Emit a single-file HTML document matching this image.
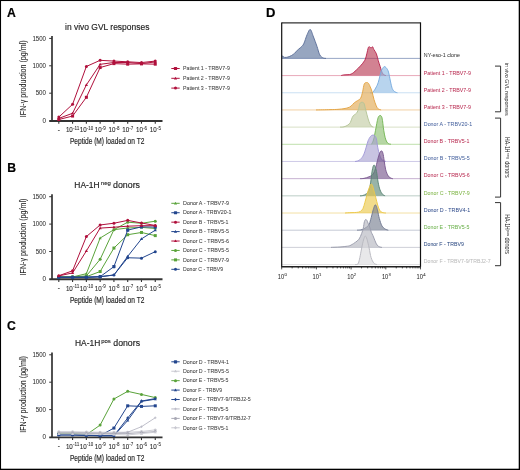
<!DOCTYPE html>
<html><head><meta charset="utf-8"><style>
html,body{margin:0;padding:0;background:#fff;}
svg{display:block;font-family:"Liberation Sans", sans-serif;will-change:transform;}
</style></head><body>
<svg width="520" height="470" viewBox="0 0 520 470">
<rect x="0" y="0" width="520" height="470" fill="#000"/>
<rect x="1.05" y="1.05" width="517.65" height="467.65" fill="#fff"/>
<text x="6.90" y="16.90" font-size="12.2" fill="#000" stroke="#000" stroke-width="0.18" font-weight="bold">A</text>
<text x="7.30" y="171.50" font-size="12.2" fill="#000" stroke="#000" stroke-width="0.18" font-weight="bold">B</text>
<text x="6.90" y="330.20" font-size="12.2" fill="#000" stroke="#000" stroke-width="0.18" font-weight="bold">C</text>
<text x="266.00" y="16.90" font-size="12.2" fill="#000" stroke="#000" stroke-width="0.18" textLength="9.40" lengthAdjust="spacingAndGlyphs" font-weight="bold">D</text>
<text x="65.0" y="30.3" font-size="8.4" fill="#222222" stroke="#222222" stroke-width="0.15" textLength="84.4" lengthAdjust="spacingAndGlyphs">in vivo GVL responses</text>
<text transform="translate(26.00,78.75) rotate(-90)" x="0" y="0" font-size="8.4" fill="#222222" stroke="#222222" stroke-width="0.06" text-anchor="middle" textLength="76.8" lengthAdjust="spacingAndGlyphs">IFN-γ production (pg/ml)</text>
<line x1="52" y1="36.00" x2="52" y2="121.60" stroke="#333333" stroke-width="1.7"/>
<line x1="49.2" y1="121.00" x2="162.5" y2="121.00" stroke="#333333" stroke-width="1.9"/>
<line x1="49.2" y1="93.20" x2="52" y2="93.20" stroke="#333333" stroke-width="1"/>
<line x1="49.2" y1="65.80" x2="52" y2="65.80" stroke="#333333" stroke-width="1"/>
<line x1="49.2" y1="38.40" x2="52" y2="38.40" stroke="#333333" stroke-width="1"/>
<text x="46.00" y="122.85" font-size="6.8" fill="#2a2a2a" stroke="#2a2a2a" stroke-width="0.03" text-anchor="end" textLength="3.50" lengthAdjust="spacingAndGlyphs">0</text>
<text x="46.00" y="95.45" font-size="6.8" fill="#2a2a2a" stroke="#2a2a2a" stroke-width="0.03" text-anchor="end" textLength="10.30" lengthAdjust="spacingAndGlyphs">500</text>
<text x="46.00" y="68.05" font-size="6.8" fill="#2a2a2a" stroke="#2a2a2a" stroke-width="0.03" text-anchor="end" textLength="13.60" lengthAdjust="spacingAndGlyphs">1000</text>
<text x="46.00" y="40.65" font-size="6.8" fill="#2a2a2a" stroke="#2a2a2a" stroke-width="0.03" text-anchor="end" textLength="13.60" lengthAdjust="spacingAndGlyphs">1500</text>
<line x1="58.80" y1="120.60" x2="58.80" y2="123.70" stroke="#333333" stroke-width="1.1"/>
<line x1="72.58" y1="120.60" x2="72.58" y2="123.70" stroke="#333333" stroke-width="1.1"/>
<line x1="86.36" y1="120.60" x2="86.36" y2="123.70" stroke="#333333" stroke-width="1.1"/>
<line x1="100.14" y1="120.60" x2="100.14" y2="123.70" stroke="#333333" stroke-width="1.1"/>
<line x1="113.92" y1="120.60" x2="113.92" y2="123.70" stroke="#333333" stroke-width="1.1"/>
<line x1="127.70" y1="120.60" x2="127.70" y2="123.70" stroke="#333333" stroke-width="1.1"/>
<line x1="141.48" y1="120.60" x2="141.48" y2="123.70" stroke="#333333" stroke-width="1.1"/>
<line x1="155.26" y1="120.60" x2="155.26" y2="123.70" stroke="#333333" stroke-width="1.1"/>
<text x="58.80" y="131.80" font-size="6.4" fill="#222222" stroke="#222222" stroke-width="0.18" text-anchor="middle">-</text>
<text x="65.93" y="132.40" font-size="7.3" fill="#262626" stroke="#262626" stroke-width="0.08" textLength="6.90" lengthAdjust="spacingAndGlyphs">10</text>
<text x="73.03" y="130.00" font-size="4.8" fill="#2a2a2a" stroke="#2a2a2a" stroke-width="0.06" textLength="6.40" lengthAdjust="spacingAndGlyphs">-11</text>
<text x="79.71" y="132.40" font-size="7.3" fill="#262626" stroke="#262626" stroke-width="0.08" textLength="6.90" lengthAdjust="spacingAndGlyphs">10</text>
<text x="86.81" y="130.00" font-size="4.8" fill="#2a2a2a" stroke="#2a2a2a" stroke-width="0.06" textLength="6.40" lengthAdjust="spacingAndGlyphs">-10</text>
<text x="94.69" y="132.40" font-size="7.3" fill="#262626" stroke="#262626" stroke-width="0.08" textLength="6.90" lengthAdjust="spacingAndGlyphs">10</text>
<text x="101.79" y="130.00" font-size="4.8" fill="#2a2a2a" stroke="#2a2a2a" stroke-width="0.06" textLength="4.00" lengthAdjust="spacingAndGlyphs">-9</text>
<text x="108.47" y="132.40" font-size="7.3" fill="#262626" stroke="#262626" stroke-width="0.08" textLength="6.90" lengthAdjust="spacingAndGlyphs">10</text>
<text x="115.57" y="130.00" font-size="4.8" fill="#2a2a2a" stroke="#2a2a2a" stroke-width="0.06" textLength="4.00" lengthAdjust="spacingAndGlyphs">-8</text>
<text x="122.25" y="132.40" font-size="7.3" fill="#262626" stroke="#262626" stroke-width="0.08" textLength="6.90" lengthAdjust="spacingAndGlyphs">10</text>
<text x="129.35" y="130.00" font-size="4.8" fill="#2a2a2a" stroke="#2a2a2a" stroke-width="0.06" textLength="4.00" lengthAdjust="spacingAndGlyphs">-7</text>
<text x="136.03" y="132.40" font-size="7.3" fill="#262626" stroke="#262626" stroke-width="0.08" textLength="6.90" lengthAdjust="spacingAndGlyphs">10</text>
<text x="143.13" y="130.00" font-size="4.8" fill="#2a2a2a" stroke="#2a2a2a" stroke-width="0.06" textLength="4.00" lengthAdjust="spacingAndGlyphs">-6</text>
<text x="149.81" y="132.40" font-size="7.3" fill="#262626" stroke="#262626" stroke-width="0.08" textLength="6.90" lengthAdjust="spacingAndGlyphs">10</text>
<text x="156.91" y="130.00" font-size="4.8" fill="#2a2a2a" stroke="#2a2a2a" stroke-width="0.06" textLength="4.00" lengthAdjust="spacingAndGlyphs">-5</text>
<text x="69.90" y="144.30" font-size="8.4" fill="#222222" stroke="#222222" stroke-width="0.15" textLength="74.50" lengthAdjust="spacingAndGlyphs">Peptide (M) loaded on T2</text>
<path d="M58.80,117.09 L72.58,104.32 L86.36,66.46 L100.14,60.32 L113.92,61.09 L127.70,61.80 L141.48,62.57 L155.26,61.09" fill="none" stroke="#b0103c" stroke-width="1.0" stroke-linejoin="round"/>
<circle cx="58.80" cy="117.09" r="1.5" fill="#b0103c"/>
<circle cx="72.58" cy="104.32" r="1.5" fill="#b0103c"/>
<circle cx="86.36" cy="66.46" r="1.5" fill="#b0103c"/>
<circle cx="100.14" cy="60.32" r="1.5" fill="#b0103c"/>
<circle cx="113.92" cy="61.09" r="1.5" fill="#b0103c"/>
<circle cx="127.70" cy="61.80" r="1.5" fill="#b0103c"/>
<circle cx="141.48" cy="62.57" r="1.5" fill="#b0103c"/>
<circle cx="155.26" cy="61.09" r="1.5" fill="#b0103c"/>
<path d="M58.80,118.41 L72.58,113.26 L86.36,84.93 L100.14,64.32 L113.92,62.51 L127.70,62.51 L141.48,63.61 L155.26,61.96" fill="none" stroke="#b0103c" stroke-width="1.0" stroke-linejoin="round"/>
<path d="M58.80,116.81 L60.40,119.51 L57.20,119.51Z" fill="#b0103c"/>
<path d="M72.58,111.66 L74.18,114.36 L70.98,114.36Z" fill="#b0103c"/>
<path d="M86.36,83.33 L87.96,86.03 L84.76,86.03Z" fill="#b0103c"/>
<path d="M100.14,62.72 L101.74,65.42 L98.54,65.42Z" fill="#b0103c"/>
<path d="M113.92,60.91 L115.52,63.61 L112.32,63.61Z" fill="#b0103c"/>
<path d="M127.70,60.91 L129.30,63.61 L126.10,63.61Z" fill="#b0103c"/>
<path d="M141.48,62.01 L143.08,64.71 L139.88,64.71Z" fill="#b0103c"/>
<path d="M155.26,60.36 L156.86,63.06 L153.66,63.06Z" fill="#b0103c"/>
<path d="M58.80,119.50 L72.58,116.05 L86.36,97.31 L100.14,67.55 L113.92,63.61 L127.70,64.16 L141.48,63.88 L155.26,64.16" fill="none" stroke="#b0103c" stroke-width="1.0" stroke-linejoin="round"/>
<rect x="57.30" y="118.00" width="3.00" height="3.00" fill="#b0103c"/>
<rect x="71.08" y="114.55" width="3.00" height="3.00" fill="#b0103c"/>
<rect x="84.86" y="95.81" width="3.00" height="3.00" fill="#b0103c"/>
<rect x="98.64" y="66.05" width="3.00" height="3.00" fill="#b0103c"/>
<rect x="112.42" y="62.11" width="3.00" height="3.00" fill="#b0103c"/>
<rect x="126.20" y="62.66" width="3.00" height="3.00" fill="#b0103c"/>
<rect x="139.98" y="62.38" width="3.00" height="3.00" fill="#b0103c"/>
<rect x="153.76" y="62.66" width="3.00" height="3.00" fill="#b0103c"/>
<line x1="171.3" y1="68.50" x2="179.7" y2="68.50" stroke="#b0103c" stroke-width="1"/>
<rect x="173.90" y="66.90" width="3.20" height="3.20" rx="0.6" fill="#b0103c"/>
<text x="183.00" y="70.20" font-size="5.9" fill="#3c3c3c" stroke="#3c3c3c" stroke-width="0.05" textLength="46.90" lengthAdjust="spacingAndGlyphs">Patient 1 - TRBV7-9</text>
<line x1="171.3" y1="78.30" x2="179.7" y2="78.30" stroke="#b0103c" stroke-width="1"/>
<path d="M175.50,76.70 L177.10,79.40 L173.90,79.40Z" fill="#b0103c"/>
<text x="183.00" y="80.00" font-size="5.9" fill="#3c3c3c" stroke="#3c3c3c" stroke-width="0.05" textLength="46.90" lengthAdjust="spacingAndGlyphs">Patient 2 - TRBV7-9</text>
<line x1="171.3" y1="88.10" x2="179.7" y2="88.10" stroke="#b0103c" stroke-width="1"/>
<circle cx="175.50" cy="88.10" r="1.5" fill="#b0103c"/>
<text x="183.00" y="89.80" font-size="5.9" fill="#3c3c3c" stroke="#3c3c3c" stroke-width="0.05" textLength="46.90" lengthAdjust="spacingAndGlyphs">Patient 3 - TRBV7-9</text>
<text x="74.3" y="188.20000000000002" font-size="8.4" fill="#222222" stroke="#222222" stroke-width="0.15" textLength="25.3" lengthAdjust="spacingAndGlyphs">HA-1H</text><text x="100.8" y="184.9" font-size="5.2" fill="#222222" stroke="#222222" stroke-width="0.1" textLength="10.0" lengthAdjust="spacingAndGlyphs">neg</text><text x="113.0" y="188.20000000000002" font-size="8.4" fill="#222222" stroke="#222222" stroke-width="0.15" textLength="27.0" lengthAdjust="spacingAndGlyphs">donors</text>
<text transform="translate(26.00,237.05) rotate(-90)" x="0" y="0" font-size="8.4" fill="#222222" stroke="#222222" stroke-width="0.06" text-anchor="middle" textLength="76.8" lengthAdjust="spacingAndGlyphs">IFN-γ production (pg/ml)</text>
<line x1="52" y1="194.30" x2="52" y2="279.90" stroke="#333333" stroke-width="1.7"/>
<line x1="49.2" y1="279.30" x2="162.5" y2="279.30" stroke="#333333" stroke-width="1.9"/>
<line x1="49.2" y1="251.50" x2="52" y2="251.50" stroke="#333333" stroke-width="1"/>
<line x1="49.2" y1="224.10" x2="52" y2="224.10" stroke="#333333" stroke-width="1"/>
<line x1="49.2" y1="196.70" x2="52" y2="196.70" stroke="#333333" stroke-width="1"/>
<text x="46.00" y="281.15" font-size="6.8" fill="#2a2a2a" stroke="#2a2a2a" stroke-width="0.03" text-anchor="end" textLength="3.50" lengthAdjust="spacingAndGlyphs">0</text>
<text x="46.00" y="253.75" font-size="6.8" fill="#2a2a2a" stroke="#2a2a2a" stroke-width="0.03" text-anchor="end" textLength="10.30" lengthAdjust="spacingAndGlyphs">500</text>
<text x="46.00" y="226.35" font-size="6.8" fill="#2a2a2a" stroke="#2a2a2a" stroke-width="0.03" text-anchor="end" textLength="13.60" lengthAdjust="spacingAndGlyphs">1000</text>
<text x="46.00" y="198.95" font-size="6.8" fill="#2a2a2a" stroke="#2a2a2a" stroke-width="0.03" text-anchor="end" textLength="13.60" lengthAdjust="spacingAndGlyphs">1500</text>
<line x1="58.80" y1="278.90" x2="58.80" y2="282.00" stroke="#333333" stroke-width="1.1"/>
<line x1="72.58" y1="278.90" x2="72.58" y2="282.00" stroke="#333333" stroke-width="1.1"/>
<line x1="86.36" y1="278.90" x2="86.36" y2="282.00" stroke="#333333" stroke-width="1.1"/>
<line x1="100.14" y1="278.90" x2="100.14" y2="282.00" stroke="#333333" stroke-width="1.1"/>
<line x1="113.92" y1="278.90" x2="113.92" y2="282.00" stroke="#333333" stroke-width="1.1"/>
<line x1="127.70" y1="278.90" x2="127.70" y2="282.00" stroke="#333333" stroke-width="1.1"/>
<line x1="141.48" y1="278.90" x2="141.48" y2="282.00" stroke="#333333" stroke-width="1.1"/>
<line x1="155.26" y1="278.90" x2="155.26" y2="282.00" stroke="#333333" stroke-width="1.1"/>
<text x="58.80" y="290.10" font-size="6.4" fill="#222222" stroke="#222222" stroke-width="0.18" text-anchor="middle">-</text>
<text x="65.93" y="290.70" font-size="7.3" fill="#262626" stroke="#262626" stroke-width="0.08" textLength="6.90" lengthAdjust="spacingAndGlyphs">10</text>
<text x="73.03" y="288.30" font-size="4.8" fill="#2a2a2a" stroke="#2a2a2a" stroke-width="0.06" textLength="6.40" lengthAdjust="spacingAndGlyphs">-11</text>
<text x="79.71" y="290.70" font-size="7.3" fill="#262626" stroke="#262626" stroke-width="0.08" textLength="6.90" lengthAdjust="spacingAndGlyphs">10</text>
<text x="86.81" y="288.30" font-size="4.8" fill="#2a2a2a" stroke="#2a2a2a" stroke-width="0.06" textLength="6.40" lengthAdjust="spacingAndGlyphs">-10</text>
<text x="94.69" y="290.70" font-size="7.3" fill="#262626" stroke="#262626" stroke-width="0.08" textLength="6.90" lengthAdjust="spacingAndGlyphs">10</text>
<text x="101.79" y="288.30" font-size="4.8" fill="#2a2a2a" stroke="#2a2a2a" stroke-width="0.06" textLength="4.00" lengthAdjust="spacingAndGlyphs">-9</text>
<text x="108.47" y="290.70" font-size="7.3" fill="#262626" stroke="#262626" stroke-width="0.08" textLength="6.90" lengthAdjust="spacingAndGlyphs">10</text>
<text x="115.57" y="288.30" font-size="4.8" fill="#2a2a2a" stroke="#2a2a2a" stroke-width="0.06" textLength="4.00" lengthAdjust="spacingAndGlyphs">-8</text>
<text x="122.25" y="290.70" font-size="7.3" fill="#262626" stroke="#262626" stroke-width="0.08" textLength="6.90" lengthAdjust="spacingAndGlyphs">10</text>
<text x="129.35" y="288.30" font-size="4.8" fill="#2a2a2a" stroke="#2a2a2a" stroke-width="0.06" textLength="4.00" lengthAdjust="spacingAndGlyphs">-7</text>
<text x="136.03" y="290.70" font-size="7.3" fill="#262626" stroke="#262626" stroke-width="0.08" textLength="6.90" lengthAdjust="spacingAndGlyphs">10</text>
<text x="143.13" y="288.30" font-size="4.8" fill="#2a2a2a" stroke="#2a2a2a" stroke-width="0.06" textLength="4.00" lengthAdjust="spacingAndGlyphs">-6</text>
<text x="149.81" y="290.70" font-size="7.3" fill="#262626" stroke="#262626" stroke-width="0.08" textLength="6.90" lengthAdjust="spacingAndGlyphs">10</text>
<text x="156.91" y="288.30" font-size="4.8" fill="#2a2a2a" stroke="#2a2a2a" stroke-width="0.06" textLength="4.00" lengthAdjust="spacingAndGlyphs">-5</text>
<text x="69.90" y="302.60" font-size="8.4" fill="#222222" stroke="#222222" stroke-width="0.15" textLength="74.50" lengthAdjust="spacingAndGlyphs">Peptide (M) loaded on T2</text>
<path d="M58.80,276.98 L72.58,276.98 L86.36,273.69 L100.14,238.07 L113.92,229.69 L127.70,227.99 L141.48,227.39 L155.26,228.48" fill="none" stroke="#5aa33a" stroke-width="1.0" stroke-linejoin="round"/>
<path d="M58.80,275.38 L60.40,278.08 L57.20,278.08Z" fill="#5aa33a"/>
<path d="M72.58,275.38 L74.18,278.08 L70.98,278.08Z" fill="#5aa33a"/>
<path d="M86.36,272.09 L87.96,274.79 L84.76,274.79Z" fill="#5aa33a"/>
<path d="M100.14,236.47 L101.74,239.17 L98.54,239.17Z" fill="#5aa33a"/>
<path d="M113.92,228.09 L115.52,230.79 L112.32,230.79Z" fill="#5aa33a"/>
<path d="M127.70,226.39 L129.30,229.09 L126.10,229.09Z" fill="#5aa33a"/>
<path d="M141.48,225.79 L143.08,228.49 L139.88,228.49Z" fill="#5aa33a"/>
<path d="M155.26,226.88 L156.86,229.58 L153.66,229.58Z" fill="#5aa33a"/>
<path d="M58.80,276.98 L72.58,276.98 L86.36,275.89 L100.14,259.34 L113.92,229.69 L127.70,222.18 L141.48,223.28 L155.26,221.20" fill="none" stroke="#5aa33a" stroke-width="1.0" stroke-linejoin="round"/>
<circle cx="58.80" cy="276.98" r="1.5" fill="#5aa33a"/>
<circle cx="72.58" cy="276.98" r="1.5" fill="#5aa33a"/>
<circle cx="86.36" cy="275.89" r="1.5" fill="#5aa33a"/>
<circle cx="100.14" cy="259.34" r="1.5" fill="#5aa33a"/>
<circle cx="113.92" cy="229.69" r="1.5" fill="#5aa33a"/>
<circle cx="127.70" cy="222.18" r="1.5" fill="#5aa33a"/>
<circle cx="141.48" cy="223.28" r="1.5" fill="#5aa33a"/>
<circle cx="155.26" cy="221.20" r="1.5" fill="#5aa33a"/>
<path d="M58.80,276.98 L72.58,276.98 L86.36,276.71 L100.14,271.50 L113.92,248.05 L127.70,234.73 L141.48,232.48 L155.26,235.61" fill="none" stroke="#5aa33a" stroke-width="1.0" stroke-linejoin="round"/>
<rect x="57.30" y="275.48" width="3.00" height="3.00" fill="#5aa33a"/>
<rect x="71.08" y="275.48" width="3.00" height="3.00" fill="#5aa33a"/>
<rect x="84.86" y="275.21" width="3.00" height="3.00" fill="#5aa33a"/>
<rect x="98.64" y="270.00" width="3.00" height="3.00" fill="#5aa33a"/>
<rect x="112.42" y="246.55" width="3.00" height="3.00" fill="#5aa33a"/>
<rect x="126.20" y="233.23" width="3.00" height="3.00" fill="#5aa33a"/>
<rect x="139.98" y="230.98" width="3.00" height="3.00" fill="#5aa33a"/>
<rect x="153.76" y="234.11" width="3.00" height="3.00" fill="#5aa33a"/>
<path d="M58.80,277.26 L72.58,277.26 L86.36,277.26 L100.14,276.71 L113.92,266.62 L127.70,230.13 L141.48,226.84 L155.26,227.11" fill="none" stroke="#23468e" stroke-width="1.0" stroke-linejoin="round"/>
<rect x="57.20" y="275.66" width="3.20" height="3.20" rx="0.6" fill="#23468e"/>
<rect x="70.98" y="275.66" width="3.20" height="3.20" rx="0.6" fill="#23468e"/>
<rect x="84.76" y="275.66" width="3.20" height="3.20" rx="0.6" fill="#23468e"/>
<rect x="98.54" y="275.11" width="3.20" height="3.20" rx="0.6" fill="#23468e"/>
<rect x="112.32" y="265.02" width="3.20" height="3.20" rx="0.6" fill="#23468e"/>
<rect x="126.10" y="228.53" width="3.20" height="3.20" rx="0.6" fill="#23468e"/>
<rect x="139.88" y="225.24" width="3.20" height="3.20" rx="0.6" fill="#23468e"/>
<rect x="153.66" y="225.51" width="3.20" height="3.20" rx="0.6" fill="#23468e"/>
<path d="M58.80,277.26 L72.58,277.26 L86.36,277.26 L100.14,276.71 L113.92,275.01 L127.70,256.38 L141.48,238.90 L155.26,230.18" fill="none" stroke="#23468e" stroke-width="1.0" stroke-linejoin="round"/>
<path d="M58.80,275.66 L60.40,278.36 L57.20,278.36Z" fill="#23468e"/>
<path d="M72.58,275.66 L74.18,278.36 L70.98,278.36Z" fill="#23468e"/>
<path d="M86.36,275.66 L87.96,278.36 L84.76,278.36Z" fill="#23468e"/>
<path d="M100.14,275.11 L101.74,277.81 L98.54,277.81Z" fill="#23468e"/>
<path d="M113.92,273.41 L115.52,276.11 L112.32,276.11Z" fill="#23468e"/>
<path d="M127.70,254.78 L129.30,257.48 L126.10,257.48Z" fill="#23468e"/>
<path d="M141.48,237.30 L143.08,240.00 L139.88,240.00Z" fill="#23468e"/>
<path d="M155.26,228.58 L156.86,231.28 L153.66,231.28Z" fill="#23468e"/>
<path d="M58.80,277.26 L72.58,277.26 L86.36,277.26 L100.14,276.71 L113.92,275.01 L127.70,257.75 L141.48,258.13 L155.26,251.66" fill="none" stroke="#23468e" stroke-width="1.0" stroke-linejoin="round"/>
<circle cx="58.80" cy="277.26" r="1.5" fill="#23468e"/>
<circle cx="72.58" cy="277.26" r="1.5" fill="#23468e"/>
<circle cx="86.36" cy="277.26" r="1.5" fill="#23468e"/>
<circle cx="100.14" cy="276.71" r="1.5" fill="#23468e"/>
<circle cx="113.92" cy="275.01" r="1.5" fill="#23468e"/>
<circle cx="127.70" cy="257.75" r="1.5" fill="#23468e"/>
<circle cx="141.48" cy="258.13" r="1.5" fill="#23468e"/>
<circle cx="155.26" cy="251.66" r="1.5" fill="#23468e"/>
<path d="M58.80,275.89 L72.58,272.93 L86.36,250.95 L100.14,228.10 L113.92,227.22 L127.70,226.18 L141.48,225.69 L155.26,225.69" fill="none" stroke="#b0103c" stroke-width="1.0" stroke-linejoin="round"/>
<path d="M58.80,274.29 L60.40,276.99 L57.20,276.99Z" fill="#b0103c"/>
<path d="M72.58,271.33 L74.18,274.03 L70.98,274.03Z" fill="#b0103c"/>
<path d="M86.36,249.35 L87.96,252.05 L84.76,252.05Z" fill="#b0103c"/>
<path d="M100.14,226.50 L101.74,229.20 L98.54,229.20Z" fill="#b0103c"/>
<path d="M113.92,225.62 L115.52,228.32 L112.32,228.32Z" fill="#b0103c"/>
<path d="M127.70,224.58 L129.30,227.28 L126.10,227.28Z" fill="#b0103c"/>
<path d="M141.48,224.09 L143.08,226.79 L139.88,226.79Z" fill="#b0103c"/>
<path d="M155.26,224.09 L156.86,226.79 L153.66,226.79Z" fill="#b0103c"/>
<path d="M58.80,275.72 L72.58,270.79 L86.36,236.59 L100.14,224.98 L113.92,223.22 L127.70,220.37 L141.48,223.00 L155.26,225.47" fill="none" stroke="#b0103c" stroke-width="1.0" stroke-linejoin="round"/>
<circle cx="58.80" cy="275.72" r="1.5" fill="#b0103c"/>
<circle cx="72.58" cy="270.79" r="1.5" fill="#b0103c"/>
<circle cx="86.36" cy="236.59" r="1.5" fill="#b0103c"/>
<circle cx="100.14" cy="224.98" r="1.5" fill="#b0103c"/>
<circle cx="113.92" cy="223.22" r="1.5" fill="#b0103c"/>
<circle cx="127.70" cy="220.37" r="1.5" fill="#b0103c"/>
<circle cx="141.48" cy="223.00" r="1.5" fill="#b0103c"/>
<circle cx="155.26" cy="225.47" r="1.5" fill="#b0103c"/>
<line x1="171.3" y1="203.30" x2="179.7" y2="203.30" stroke="#5aa33a" stroke-width="1"/>
<path d="M175.50,201.70 L177.10,204.40 L173.90,204.40Z" fill="#5aa33a"/>
<text x="183.00" y="205.00" font-size="5.9" fill="#3c3c3c" stroke="#3c3c3c" stroke-width="0.05" textLength="46.00" lengthAdjust="spacingAndGlyphs">Donor A - TRBV7-9</text>
<line x1="171.3" y1="212.73" x2="179.7" y2="212.73" stroke="#23468e" stroke-width="1"/>
<rect x="173.90" y="211.13" width="3.20" height="3.20" rx="0.6" fill="#23468e"/>
<text x="183.00" y="214.43" font-size="5.9" fill="#3c3c3c" stroke="#3c3c3c" stroke-width="0.05" textLength="48.40" lengthAdjust="spacingAndGlyphs">Donor A - TRBV20-1</text>
<line x1="171.3" y1="222.16" x2="179.7" y2="222.16" stroke="#b0103c" stroke-width="1"/>
<circle cx="175.50" cy="222.16" r="1.5" fill="#b0103c"/>
<text x="183.00" y="223.86" font-size="5.9" fill="#3c3c3c" stroke="#3c3c3c" stroke-width="0.05" textLength="45.50" lengthAdjust="spacingAndGlyphs">Donor B - TRBV5-1</text>
<line x1="171.3" y1="231.59" x2="179.7" y2="231.59" stroke="#23468e" stroke-width="1"/>
<path d="M175.50,229.99 L177.10,232.69 L173.90,232.69Z" fill="#23468e"/>
<text x="183.00" y="233.29" font-size="5.9" fill="#3c3c3c" stroke="#3c3c3c" stroke-width="0.05" textLength="46.00" lengthAdjust="spacingAndGlyphs">Donor B - TRBV5-5</text>
<line x1="171.3" y1="241.02" x2="179.7" y2="241.02" stroke="#b0103c" stroke-width="1"/>
<path d="M175.50,239.42 L177.10,242.12 L173.90,242.12Z" fill="#b0103c"/>
<text x="183.00" y="242.72" font-size="5.9" fill="#3c3c3c" stroke="#3c3c3c" stroke-width="0.05" textLength="46.00" lengthAdjust="spacingAndGlyphs">Donor C - TRBV5-6</text>
<line x1="171.3" y1="250.45" x2="179.7" y2="250.45" stroke="#5aa33a" stroke-width="1"/>
<circle cx="175.50" cy="250.45" r="1.5" fill="#5aa33a"/>
<text x="183.00" y="252.15" font-size="5.9" fill="#3c3c3c" stroke="#3c3c3c" stroke-width="0.05" textLength="46.00" lengthAdjust="spacingAndGlyphs">Donor C - TRBV5-5</text>
<line x1="171.3" y1="259.88" x2="179.7" y2="259.88" stroke="#5aa33a" stroke-width="1"/>
<rect x="174.00" y="258.38" width="3.00" height="3.00" fill="#5aa33a"/>
<text x="183.00" y="261.58" font-size="5.9" fill="#3c3c3c" stroke="#3c3c3c" stroke-width="0.05" textLength="46.00" lengthAdjust="spacingAndGlyphs">Donor C - TRBV7-9</text>
<line x1="171.3" y1="269.31" x2="179.7" y2="269.31" stroke="#23468e" stroke-width="1"/>
<circle cx="175.50" cy="269.31" r="1.5" fill="#23468e"/>
<text x="183.00" y="271.01" font-size="5.9" fill="#3c3c3c" stroke="#3c3c3c" stroke-width="0.05" textLength="40.00" lengthAdjust="spacingAndGlyphs">Donor C - TRBV9</text>
<text x="75.0" y="346.29999999999995" font-size="8.4" fill="#222222" stroke="#222222" stroke-width="0.15" textLength="25.3" lengthAdjust="spacingAndGlyphs">HA-1H</text><text x="101.2" y="342.99999999999994" font-size="5.2" fill="#222222" stroke="#222222" stroke-width="0.1" textLength="9.6" lengthAdjust="spacingAndGlyphs">pos</text><text x="113.3" y="346.29999999999995" font-size="8.4" fill="#222222" stroke="#222222" stroke-width="0.15" textLength="26.7" lengthAdjust="spacingAndGlyphs">donors</text>
<text transform="translate(26.00,394.45) rotate(-90)" x="0" y="0" font-size="8.4" fill="#222222" stroke="#222222" stroke-width="0.06" text-anchor="middle" textLength="76.8" lengthAdjust="spacingAndGlyphs">IFN-γ production (pg/ml)</text>
<line x1="52" y1="352.40" x2="52" y2="438.00" stroke="#333333" stroke-width="1.7"/>
<line x1="49.2" y1="437.40" x2="162.5" y2="437.40" stroke="#333333" stroke-width="1.9"/>
<line x1="49.2" y1="409.60" x2="52" y2="409.60" stroke="#333333" stroke-width="1"/>
<line x1="49.2" y1="382.20" x2="52" y2="382.20" stroke="#333333" stroke-width="1"/>
<line x1="49.2" y1="354.80" x2="52" y2="354.80" stroke="#333333" stroke-width="1"/>
<text x="46.00" y="439.25" font-size="6.8" fill="#2a2a2a" stroke="#2a2a2a" stroke-width="0.03" text-anchor="end" textLength="3.50" lengthAdjust="spacingAndGlyphs">0</text>
<text x="46.00" y="411.85" font-size="6.8" fill="#2a2a2a" stroke="#2a2a2a" stroke-width="0.03" text-anchor="end" textLength="10.30" lengthAdjust="spacingAndGlyphs">500</text>
<text x="46.00" y="384.45" font-size="6.8" fill="#2a2a2a" stroke="#2a2a2a" stroke-width="0.03" text-anchor="end" textLength="13.60" lengthAdjust="spacingAndGlyphs">1000</text>
<text x="46.00" y="357.05" font-size="6.8" fill="#2a2a2a" stroke="#2a2a2a" stroke-width="0.03" text-anchor="end" textLength="13.60" lengthAdjust="spacingAndGlyphs">1500</text>
<line x1="58.80" y1="437.00" x2="58.80" y2="440.10" stroke="#333333" stroke-width="1.1"/>
<line x1="72.58" y1="437.00" x2="72.58" y2="440.10" stroke="#333333" stroke-width="1.1"/>
<line x1="86.36" y1="437.00" x2="86.36" y2="440.10" stroke="#333333" stroke-width="1.1"/>
<line x1="100.14" y1="437.00" x2="100.14" y2="440.10" stroke="#333333" stroke-width="1.1"/>
<line x1="113.92" y1="437.00" x2="113.92" y2="440.10" stroke="#333333" stroke-width="1.1"/>
<line x1="127.70" y1="437.00" x2="127.70" y2="440.10" stroke="#333333" stroke-width="1.1"/>
<line x1="141.48" y1="437.00" x2="141.48" y2="440.10" stroke="#333333" stroke-width="1.1"/>
<line x1="155.26" y1="437.00" x2="155.26" y2="440.10" stroke="#333333" stroke-width="1.1"/>
<text x="58.80" y="448.20" font-size="6.4" fill="#222222" stroke="#222222" stroke-width="0.18" text-anchor="middle">-</text>
<text x="65.93" y="448.80" font-size="7.3" fill="#262626" stroke="#262626" stroke-width="0.08" textLength="6.90" lengthAdjust="spacingAndGlyphs">10</text>
<text x="73.03" y="446.40" font-size="4.8" fill="#2a2a2a" stroke="#2a2a2a" stroke-width="0.06" textLength="6.40" lengthAdjust="spacingAndGlyphs">-11</text>
<text x="79.71" y="448.80" font-size="7.3" fill="#262626" stroke="#262626" stroke-width="0.08" textLength="6.90" lengthAdjust="spacingAndGlyphs">10</text>
<text x="86.81" y="446.40" font-size="4.8" fill="#2a2a2a" stroke="#2a2a2a" stroke-width="0.06" textLength="6.40" lengthAdjust="spacingAndGlyphs">-10</text>
<text x="94.69" y="448.80" font-size="7.3" fill="#262626" stroke="#262626" stroke-width="0.08" textLength="6.90" lengthAdjust="spacingAndGlyphs">10</text>
<text x="101.79" y="446.40" font-size="4.8" fill="#2a2a2a" stroke="#2a2a2a" stroke-width="0.06" textLength="4.00" lengthAdjust="spacingAndGlyphs">-9</text>
<text x="108.47" y="448.80" font-size="7.3" fill="#262626" stroke="#262626" stroke-width="0.08" textLength="6.90" lengthAdjust="spacingAndGlyphs">10</text>
<text x="115.57" y="446.40" font-size="4.8" fill="#2a2a2a" stroke="#2a2a2a" stroke-width="0.06" textLength="4.00" lengthAdjust="spacingAndGlyphs">-8</text>
<text x="122.25" y="448.80" font-size="7.3" fill="#262626" stroke="#262626" stroke-width="0.08" textLength="6.90" lengthAdjust="spacingAndGlyphs">10</text>
<text x="129.35" y="446.40" font-size="4.8" fill="#2a2a2a" stroke="#2a2a2a" stroke-width="0.06" textLength="4.00" lengthAdjust="spacingAndGlyphs">-7</text>
<text x="136.03" y="448.80" font-size="7.3" fill="#262626" stroke="#262626" stroke-width="0.08" textLength="6.90" lengthAdjust="spacingAndGlyphs">10</text>
<text x="143.13" y="446.40" font-size="4.8" fill="#2a2a2a" stroke="#2a2a2a" stroke-width="0.06" textLength="4.00" lengthAdjust="spacingAndGlyphs">-6</text>
<text x="149.81" y="448.80" font-size="7.3" fill="#262626" stroke="#262626" stroke-width="0.08" textLength="6.90" lengthAdjust="spacingAndGlyphs">10</text>
<text x="156.91" y="446.40" font-size="4.8" fill="#2a2a2a" stroke="#2a2a2a" stroke-width="0.06" textLength="4.00" lengthAdjust="spacingAndGlyphs">-5</text>
<text x="69.90" y="460.70" font-size="8.4" fill="#222222" stroke="#222222" stroke-width="0.15" textLength="74.50" lengthAdjust="spacingAndGlyphs">Peptide (M) loaded on T2</text>
<path d="M58.80,433.33 L72.58,433.33 L86.36,434.70 L100.14,425.11 L113.92,398.97 L127.70,391.35 L141.48,394.42 L155.26,397.60" fill="none" stroke="#5aa33a" stroke-width="1.0" stroke-linejoin="round"/>
<circle cx="58.80" cy="433.33" r="1.5" fill="#5aa33a"/>
<circle cx="72.58" cy="433.33" r="1.5" fill="#5aa33a"/>
<circle cx="86.36" cy="434.70" r="1.5" fill="#5aa33a"/>
<circle cx="100.14" cy="425.11" r="1.5" fill="#5aa33a"/>
<circle cx="113.92" cy="398.97" r="1.5" fill="#5aa33a"/>
<circle cx="127.70" cy="391.35" r="1.5" fill="#5aa33a"/>
<circle cx="141.48" cy="394.42" r="1.5" fill="#5aa33a"/>
<circle cx="155.26" cy="397.60" r="1.5" fill="#5aa33a"/>
<path d="M58.80,434.53 L72.58,434.53 L86.36,435.08 L100.14,435.63 L113.92,428.07 L127.70,405.82 L141.48,406.42 L155.26,405.82" fill="none" stroke="#23468e" stroke-width="1.0" stroke-linejoin="round"/>
<rect x="57.30" y="433.03" width="3.00" height="3.00" fill="#23468e"/>
<rect x="71.08" y="433.03" width="3.00" height="3.00" fill="#23468e"/>
<rect x="84.86" y="433.58" width="3.00" height="3.00" fill="#23468e"/>
<rect x="98.64" y="434.13" width="3.00" height="3.00" fill="#23468e"/>
<rect x="112.42" y="426.57" width="3.00" height="3.00" fill="#23468e"/>
<rect x="126.20" y="404.32" width="3.00" height="3.00" fill="#23468e"/>
<rect x="139.98" y="404.92" width="3.00" height="3.00" fill="#23468e"/>
<rect x="153.76" y="404.32" width="3.00" height="3.00" fill="#23468e"/>
<path d="M58.80,434.81 L72.58,434.81 L86.36,435.36 L100.14,435.63 L113.92,435.63 L127.70,418.04 L141.48,401.05 L155.26,398.59" fill="none" stroke="#23468e" stroke-width="1.0" stroke-linejoin="round"/>
<path d="M58.80,433.11 L60.30,434.81 L58.80,436.51 L57.30,434.81Z" fill="#23468e"/>
<path d="M72.58,433.11 L74.08,434.81 L72.58,436.51 L71.08,434.81Z" fill="#23468e"/>
<path d="M86.36,433.66 L87.86,435.36 L86.36,437.06 L84.86,435.36Z" fill="#23468e"/>
<path d="M100.14,433.93 L101.64,435.63 L100.14,437.33 L98.64,435.63Z" fill="#23468e"/>
<path d="M113.92,433.93 L115.42,435.63 L113.92,437.33 L112.42,435.63Z" fill="#23468e"/>
<path d="M127.70,416.34 L129.20,418.04 L127.70,419.74 L126.20,418.04Z" fill="#23468e"/>
<path d="M141.48,399.35 L142.98,401.05 L141.48,402.75 L139.98,401.05Z" fill="#23468e"/>
<path d="M155.26,396.89 L156.76,398.59 L155.26,400.29 L153.76,398.59Z" fill="#23468e"/>
<path d="M58.80,435.08 L72.58,435.08 L86.36,435.47 L100.14,435.79 L113.92,435.79 L127.70,420.51 L141.48,401.38 L155.26,399.19" fill="none" stroke="#23468e" stroke-width="1.0" stroke-linejoin="round"/>
<path d="M58.80,433.48 L60.40,436.18 L57.20,436.18Z" fill="#23468e"/>
<path d="M72.58,433.48 L74.18,436.18 L70.98,436.18Z" fill="#23468e"/>
<path d="M86.36,433.87 L87.96,436.57 L84.76,436.57Z" fill="#23468e"/>
<path d="M100.14,434.19 L101.74,436.89 L98.54,436.89Z" fill="#23468e"/>
<path d="M113.92,434.19 L115.52,436.89 L112.32,436.89Z" fill="#23468e"/>
<path d="M127.70,418.91 L129.30,421.61 L126.10,421.61Z" fill="#23468e"/>
<path d="M141.48,399.78 L143.08,402.48 L139.88,402.48Z" fill="#23468e"/>
<path d="M155.26,397.59 L156.86,400.29 L153.66,400.29Z" fill="#23468e"/>
<path d="M58.80,431.79 L72.58,431.79 L86.36,432.07 L100.14,432.23 L113.92,432.23 L127.70,432.23 L141.48,431.52 L155.26,429.88" fill="none" stroke="#c8c8d0" stroke-width="0.9" stroke-linejoin="round"/>
<circle cx="58.80" cy="431.79" r="1.5" fill="#c8c8d0"/>
<circle cx="72.58" cy="431.79" r="1.5" fill="#c8c8d0"/>
<circle cx="86.36" cy="432.07" r="1.5" fill="#c8c8d0"/>
<circle cx="100.14" cy="432.23" r="1.5" fill="#c8c8d0"/>
<circle cx="113.92" cy="432.23" r="1.5" fill="#c8c8d0"/>
<circle cx="127.70" cy="432.23" r="1.5" fill="#c8c8d0"/>
<circle cx="141.48" cy="431.52" r="1.5" fill="#c8c8d0"/>
<circle cx="155.26" cy="429.88" r="1.5" fill="#c8c8d0"/>
<path d="M58.80,432.34 L72.58,432.34 L86.36,432.62 L100.14,432.89 L113.92,433.16 L127.70,432.23 L141.48,426.70 L155.26,417.77" fill="none" stroke="#b8b8c4" stroke-width="0.9" stroke-linejoin="round"/>
<path d="M57.50,432.34 H60.10 M58.80,431.04 V433.64" stroke="#b8b8c4" stroke-width="0.7"/>
<path d="M71.28,432.34 H73.88 M72.58,431.04 V433.64" stroke="#b8b8c4" stroke-width="0.7"/>
<path d="M85.06,432.62 H87.66 M86.36,431.32 V433.92" stroke="#b8b8c4" stroke-width="0.7"/>
<path d="M98.84,432.89 H101.44 M100.14,431.59 V434.19" stroke="#b8b8c4" stroke-width="0.7"/>
<path d="M112.62,433.16 H115.22 M113.92,431.86 V434.46" stroke="#b8b8c4" stroke-width="0.7"/>
<path d="M126.40,432.23 H129.00 M127.70,430.93 V433.53" stroke="#b8b8c4" stroke-width="0.7"/>
<path d="M140.18,426.70 H142.78 M141.48,425.40 V428.00" stroke="#b8b8c4" stroke-width="0.7"/>
<path d="M153.96,417.77 H156.56 M155.26,416.47 V419.07" stroke="#b8b8c4" stroke-width="0.7"/>
<path d="M58.80,433.16 L72.58,433.16 L86.36,433.44 L100.14,433.60 L113.92,433.60 L127.70,433.60 L141.48,432.62 L155.26,431.52" fill="none" stroke="#a8a8b4" stroke-width="0.9" stroke-linejoin="round"/>
<path d="M58.80,431.46 L60.30,433.16 L58.80,434.86 L57.30,433.16Z" fill="#a8a8b4"/>
<path d="M72.58,431.46 L74.08,433.16 L72.58,434.86 L71.08,433.16Z" fill="#a8a8b4"/>
<path d="M86.36,431.74 L87.86,433.44 L86.36,435.14 L84.86,433.44Z" fill="#a8a8b4"/>
<path d="M100.14,431.90 L101.64,433.60 L100.14,435.30 L98.64,433.60Z" fill="#a8a8b4"/>
<path d="M113.92,431.90 L115.42,433.60 L113.92,435.30 L112.42,433.60Z" fill="#a8a8b4"/>
<path d="M127.70,431.90 L129.20,433.60 L127.70,435.30 L126.20,433.60Z" fill="#a8a8b4"/>
<path d="M141.48,430.92 L142.98,432.62 L141.48,434.32 L139.98,432.62Z" fill="#a8a8b4"/>
<path d="M155.26,429.82 L156.76,431.52 L155.26,433.22 L153.76,431.52Z" fill="#a8a8b4"/>
<path d="M58.80,433.99 L72.58,433.99 L86.36,434.26 L100.14,434.26 L113.92,434.53 L127.70,434.92 L141.48,433.60 L155.26,432.23" fill="none" stroke="#c8c8d0" stroke-width="0.9" stroke-linejoin="round"/>
<path d="M58.80,432.39 L60.40,435.09 L57.20,435.09Z" fill="#c8c8d0"/>
<path d="M72.58,432.39 L74.18,435.09 L70.98,435.09Z" fill="#c8c8d0"/>
<path d="M86.36,432.66 L87.96,435.36 L84.76,435.36Z" fill="#c8c8d0"/>
<path d="M100.14,432.66 L101.74,435.36 L98.54,435.36Z" fill="#c8c8d0"/>
<path d="M113.92,432.93 L115.52,435.63 L112.32,435.63Z" fill="#c8c8d0"/>
<path d="M127.70,433.32 L129.30,436.02 L126.10,436.02Z" fill="#c8c8d0"/>
<path d="M141.48,432.00 L143.08,434.70 L139.88,434.70Z" fill="#c8c8d0"/>
<path d="M155.26,430.63 L156.86,433.33 L153.66,433.33Z" fill="#c8c8d0"/>
<line x1="171.3" y1="361.80" x2="179.7" y2="361.80" stroke="#23468e" stroke-width="1"/>
<rect x="173.90" y="360.20" width="3.20" height="3.20" rx="0.6" fill="#23468e"/>
<text x="183.00" y="363.50" font-size="5.9" fill="#3c3c3c" stroke="#3c3c3c" stroke-width="0.05" textLength="46.00" lengthAdjust="spacingAndGlyphs">Donor D - TRBV4-1</text>
<line x1="171.3" y1="371.23" x2="179.7" y2="371.23" stroke="#c8c8d0" stroke-width="1"/>
<path d="M175.50,369.63 L177.10,372.33 L173.90,372.33Z" fill="#c8c8d0"/>
<text x="183.00" y="372.93" font-size="5.9" fill="#3c3c3c" stroke="#3c3c3c" stroke-width="0.05" textLength="46.00" lengthAdjust="spacingAndGlyphs">Donor D - TRBV5-5</text>
<line x1="171.3" y1="380.66" x2="179.7" y2="380.66" stroke="#5aa33a" stroke-width="1"/>
<circle cx="175.50" cy="380.66" r="1.5" fill="#5aa33a"/>
<text x="183.00" y="382.36" font-size="5.9" fill="#3c3c3c" stroke="#3c3c3c" stroke-width="0.05" textLength="45.50" lengthAdjust="spacingAndGlyphs">Donor E - TRBV5-5</text>
<line x1="171.3" y1="390.09" x2="179.7" y2="390.09" stroke="#23468e" stroke-width="1"/>
<path d="M175.50,388.49 L177.10,391.19 L173.90,391.19Z" fill="#23468e"/>
<text x="183.00" y="391.79" font-size="5.9" fill="#3c3c3c" stroke="#3c3c3c" stroke-width="0.05" textLength="39.00" lengthAdjust="spacingAndGlyphs">Donor F - TRBV9</text>
<line x1="171.3" y1="399.52" x2="179.7" y2="399.52" stroke="#23468e" stroke-width="1"/>
<path d="M175.50,397.82 L177.00,399.52 L175.50,401.22 L174.00,399.52Z" fill="#23468e"/>
<text x="183.00" y="401.22" font-size="5.9" fill="#3c3c3c" stroke="#3c3c3c" stroke-width="0.05" textLength="67.80" lengthAdjust="spacingAndGlyphs">Donor F - TRBV7-9/TRBJ2-5</text>
<line x1="171.3" y1="408.95" x2="179.7" y2="408.95" stroke="#b8b8c4" stroke-width="1"/>
<path d="M174.20,408.95 H176.80 M175.50,407.65 V410.25" stroke="#b8b8c4" stroke-width="0.7"/>
<text x="183.00" y="410.65" font-size="5.9" fill="#3c3c3c" stroke="#3c3c3c" stroke-width="0.05" textLength="45.50" lengthAdjust="spacingAndGlyphs">Donor F - TRBV5-5</text>
<line x1="171.3" y1="418.38" x2="179.7" y2="418.38" stroke="#a8a8b4" stroke-width="1"/>
<circle cx="175.50" cy="418.38" r="1.5" fill="#a8a8b4"/>
<text x="183.00" y="420.08" font-size="5.9" fill="#3c3c3c" stroke="#3c3c3c" stroke-width="0.05" textLength="67.80" lengthAdjust="spacingAndGlyphs">Donor F - TRBV7-9/TRBJ2-7</text>
<line x1="171.3" y1="427.81" x2="179.7" y2="427.81" stroke="#c8c8d0" stroke-width="1"/>
<path d="M175.50,426.11 L177.00,427.81 L175.50,429.51 L174.00,427.81Z" fill="#c8c8d0"/>
<text x="183.00" y="429.51" font-size="5.9" fill="#3c3c3c" stroke="#3c3c3c" stroke-width="0.05" textLength="45.50" lengthAdjust="spacingAndGlyphs">Donor G - TRBV5-1</text>
<line x1="281.70" y1="58.40" x2="420.50" y2="58.40" stroke="#8c9cc0" stroke-width="0.9"/>
<path d="M281.70,55.50 C282.17,55.82 283.45,57.15 284.50,57.40 C285.55,57.65 286.83,57.32 288.00,57.00 C289.17,56.68 290.42,56.10 291.50,55.50 C292.58,54.90 293.53,54.27 294.50,53.40 C295.47,52.53 296.30,51.27 297.30,50.30 C298.30,49.33 299.43,48.67 300.50,47.60 C301.57,46.53 302.60,46.05 303.70,43.90 C304.80,41.75 306.00,37.10 307.10,34.70 C308.20,32.30 309.23,29.12 310.30,29.50 C311.37,29.88 312.40,34.22 313.50,37.00 C314.60,39.78 315.85,43.22 316.90,46.20 C317.95,49.18 318.73,52.93 319.80,54.90 C320.87,56.87 322.27,57.42 323.30,58.00 C324.33,58.58 325.55,58.33 326.00,58.40 L326.00,58.40 L281.70,58.40 Z" fill="#576f99" fill-opacity="0.62" stroke="none"/>
<path d="M281.70,55.50 C282.17,55.82 283.45,57.15 284.50,57.40 C285.55,57.65 286.83,57.32 288.00,57.00 C289.17,56.68 290.42,56.10 291.50,55.50 C292.58,54.90 293.53,54.27 294.50,53.40 C295.47,52.53 296.30,51.27 297.30,50.30 C298.30,49.33 299.43,48.67 300.50,47.60 C301.57,46.53 302.60,46.05 303.70,43.90 C304.80,41.75 306.00,37.10 307.10,34.70 C308.20,32.30 309.23,29.12 310.30,29.50 C311.37,29.88 312.40,34.22 313.50,37.00 C314.60,39.78 315.85,43.22 316.90,46.20 C317.95,49.18 318.73,52.93 319.80,54.90 C320.87,56.87 322.27,57.42 323.30,58.00 C324.33,58.58 325.55,58.33 326.00,58.40" fill="none" stroke="#5d7099" stroke-width="0.95" stroke-linejoin="round"/>
<line x1="281.70" y1="75.58" x2="420.50" y2="75.58" stroke="#e6a0b2" stroke-width="0.9"/>
<path d="M341.00,75.58 C341.50,75.46 342.83,75.03 344.00,74.88 C345.17,74.73 346.83,74.80 348.00,74.68 C349.17,74.56 350.08,74.53 351.00,74.18 C351.92,73.83 352.57,73.31 353.50,72.58 C354.43,71.85 355.45,70.88 356.60,69.78 C357.75,68.68 359.02,67.58 360.40,65.98 C361.78,64.38 363.83,62.21 364.90,60.18 C365.97,58.15 366.23,55.86 366.80,53.78 C367.37,51.70 367.83,48.85 368.30,47.68 C368.77,46.51 369.15,46.71 369.60,46.78 C370.05,46.85 370.50,48.08 371.00,48.08 C371.50,48.08 372.13,46.56 372.60,46.78 C373.07,47.00 373.17,48.21 373.80,49.38 C374.43,50.55 375.65,51.88 376.40,53.78 C377.15,55.68 377.67,58.65 378.30,60.78 C378.93,62.91 379.57,64.65 380.20,66.58 C380.83,68.51 381.47,71.00 382.10,72.38 C382.73,73.76 383.35,74.35 384.00,74.88 C384.65,75.41 385.67,75.46 386.00,75.58 L386.00,75.58 L341.00,75.58 Z" fill="#b6354f" fill-opacity="0.62" stroke="none"/>
<path d="M341.00,75.58 C341.50,75.46 342.83,75.03 344.00,74.88 C345.17,74.73 346.83,74.80 348.00,74.68 C349.17,74.56 350.08,74.53 351.00,74.18 C351.92,73.83 352.57,73.31 353.50,72.58 C354.43,71.85 355.45,70.88 356.60,69.78 C357.75,68.68 359.02,67.58 360.40,65.98 C361.78,64.38 363.83,62.21 364.90,60.18 C365.97,58.15 366.23,55.86 366.80,53.78 C367.37,51.70 367.83,48.85 368.30,47.68 C368.77,46.51 369.15,46.71 369.60,46.78 C370.05,46.85 370.50,48.08 371.00,48.08 C371.50,48.08 372.13,46.56 372.60,46.78 C373.07,47.00 373.17,48.21 373.80,49.38 C374.43,50.55 375.65,51.88 376.40,53.78 C377.15,55.68 377.67,58.65 378.30,60.78 C378.93,62.91 379.57,64.65 380.20,66.58 C380.83,68.51 381.47,71.00 382.10,72.38 C382.73,73.76 383.35,74.35 384.00,74.88 C384.65,75.41 385.67,75.46 386.00,75.58" fill="none" stroke="#b82850" stroke-width="0.95" stroke-linejoin="round"/>
<line x1="281.70" y1="92.76" x2="420.50" y2="92.76" stroke="#c4dcf2" stroke-width="0.9"/>
<path d="M370.00,92.76 C370.43,92.71 371.65,93.24 372.60,92.46 C373.55,91.68 374.75,89.76 375.70,88.06 C376.65,86.36 377.43,84.93 378.30,82.26 C379.17,79.59 380.15,74.39 380.90,72.06 C381.65,69.73 382.22,69.18 382.80,68.26 C383.38,67.34 383.77,66.56 384.40,66.56 C385.03,66.56 385.92,67.34 386.60,68.26 C387.28,69.18 387.87,69.93 388.50,72.06 C389.13,74.19 389.77,78.29 390.40,81.06 C391.03,83.83 391.55,86.86 392.30,88.66 C393.05,90.46 394.05,91.18 394.90,91.86 C395.75,92.54 396.98,92.61 397.40,92.76 L397.40,92.76 L370.00,92.76 Z" fill="#8cbae4" fill-opacity="0.62" stroke="none"/>
<path d="M370.00,92.76 C370.43,92.71 371.65,93.24 372.60,92.46 C373.55,91.68 374.75,89.76 375.70,88.06 C376.65,86.36 377.43,84.93 378.30,82.26 C379.17,79.59 380.15,74.39 380.90,72.06 C381.65,69.73 382.22,69.18 382.80,68.26 C383.38,67.34 383.77,66.56 384.40,66.56 C385.03,66.56 385.92,67.34 386.60,68.26 C387.28,69.18 387.87,69.93 388.50,72.06 C389.13,74.19 389.77,78.29 390.40,81.06 C391.03,83.83 391.55,86.86 392.30,88.66 C393.05,90.46 394.05,91.18 394.90,91.86 C395.75,92.54 396.98,92.61 397.40,92.76" fill="none" stroke="#78acdf" stroke-width="0.95" stroke-linejoin="round"/>
<line x1="281.70" y1="109.94" x2="420.50" y2="109.94" stroke="#f0cc98" stroke-width="0.9"/>
<path d="M316.00,109.94 C318.33,109.89 326.33,109.74 330.00,109.64 C333.67,109.54 335.67,109.51 338.00,109.34 C340.33,109.17 342.33,108.91 344.00,108.64 C345.67,108.37 346.83,108.16 348.00,107.74 C349.17,107.32 349.95,106.97 351.00,106.14 C352.05,105.31 353.23,103.64 354.30,102.74 C355.37,101.84 356.35,101.49 357.40,100.74 C358.45,99.99 359.73,99.72 360.60,98.24 C361.47,96.76 362.00,94.19 362.60,91.84 C363.20,89.49 363.57,85.69 364.20,84.14 C364.83,82.59 365.72,82.71 366.40,82.54 C367.08,82.37 367.67,82.44 368.30,83.14 C368.93,83.84 369.57,85.29 370.20,86.74 C370.83,88.19 371.47,89.71 372.10,91.84 C372.73,93.97 373.35,97.31 374.00,99.54 C374.65,101.77 375.35,103.72 376.00,105.24 C376.65,106.76 377.05,107.86 377.90,108.64 C378.75,109.42 380.57,109.72 381.10,109.94 L381.10,109.94 L316.00,109.94 Z" fill="#e0a64c" fill-opacity="0.62" stroke="none"/>
<path d="M316.00,109.94 C318.33,109.89 326.33,109.74 330.00,109.64 C333.67,109.54 335.67,109.51 338.00,109.34 C340.33,109.17 342.33,108.91 344.00,108.64 C345.67,108.37 346.83,108.16 348.00,107.74 C349.17,107.32 349.95,106.97 351.00,106.14 C352.05,105.31 353.23,103.64 354.30,102.74 C355.37,101.84 356.35,101.49 357.40,100.74 C358.45,99.99 359.73,99.72 360.60,98.24 C361.47,96.76 362.00,94.19 362.60,91.84 C363.20,89.49 363.57,85.69 364.20,84.14 C364.83,82.59 365.72,82.71 366.40,82.54 C367.08,82.37 367.67,82.44 368.30,83.14 C368.93,83.84 369.57,85.29 370.20,86.74 C370.83,88.19 371.47,89.71 372.10,91.84 C372.73,93.97 373.35,97.31 374.00,99.54 C374.65,101.77 375.35,103.72 376.00,105.24 C376.65,106.76 377.05,107.86 377.90,108.64 C378.75,109.42 380.57,109.72 381.10,109.94" fill="none" stroke="#e4a444" stroke-width="0.95" stroke-linejoin="round"/>
<line x1="281.70" y1="127.12" x2="420.50" y2="127.12" stroke="#d4dcc0" stroke-width="0.9"/>
<path d="M340.00,127.12 C340.67,127.07 342.68,127.17 344.00,126.82 C345.32,126.47 346.83,125.75 347.90,125.02 C348.97,124.29 349.67,123.70 350.40,122.42 C351.13,121.14 351.65,118.59 352.30,117.32 C352.95,116.05 353.55,115.55 354.30,114.82 C355.05,114.09 356.07,113.99 356.80,112.92 C357.53,111.85 358.17,110.02 358.70,108.42 C359.23,106.82 359.35,104.34 360.00,103.32 C360.65,102.30 361.90,102.22 362.60,102.32 C363.30,102.42 363.72,102.80 364.20,103.92 C364.68,105.04 365.03,107.20 365.50,109.02 C365.97,110.84 366.43,112.79 367.00,114.82 C367.57,116.85 368.25,119.42 368.90,121.22 C369.55,123.02 370.15,124.64 370.90,125.62 C371.65,126.60 372.98,126.87 373.40,127.12 L373.40,127.12 L340.00,127.12 Z" fill="#c0caa0" fill-opacity="0.62" stroke="none"/>
<path d="M340.00,127.12 C340.67,127.07 342.68,127.17 344.00,126.82 C345.32,126.47 346.83,125.75 347.90,125.02 C348.97,124.29 349.67,123.70 350.40,122.42 C351.13,121.14 351.65,118.59 352.30,117.32 C352.95,116.05 353.55,115.55 354.30,114.82 C355.05,114.09 356.07,113.99 356.80,112.92 C357.53,111.85 358.17,110.02 358.70,108.42 C359.23,106.82 359.35,104.34 360.00,103.32 C360.65,102.30 361.90,102.22 362.60,102.32 C363.30,102.42 363.72,102.80 364.20,103.92 C364.68,105.04 365.03,107.20 365.50,109.02 C365.97,110.84 366.43,112.79 367.00,114.82 C367.57,116.85 368.25,119.42 368.90,121.22 C369.55,123.02 370.15,124.64 370.90,125.62 C371.65,126.60 372.98,126.87 373.40,127.12" fill="none" stroke="#b4c498" stroke-width="0.95" stroke-linejoin="round"/>
<line x1="281.70" y1="144.30" x2="420.50" y2="144.30" stroke="#b8dca4" stroke-width="0.9"/>
<path d="M371.50,144.30 C371.83,143.58 372.95,141.70 373.50,140.00 C374.05,138.30 374.37,136.23 374.80,134.10 C375.23,131.97 375.67,129.48 376.10,127.20 C376.53,124.92 376.98,122.17 377.40,120.40 C377.82,118.63 378.13,117.42 378.60,116.60 C379.07,115.78 379.70,115.50 380.20,115.50 C380.70,115.50 381.22,115.78 381.60,116.60 C381.98,117.42 382.22,118.63 382.50,120.40 C382.78,122.17 382.98,124.92 383.30,127.20 C383.62,129.48 383.97,131.97 384.40,134.10 C384.83,136.23 385.30,138.45 385.90,140.00 C386.50,141.55 387.15,142.68 388.00,143.40 C388.85,144.12 390.50,144.15 391.00,144.30 L391.00,144.30 L371.50,144.30 Z" fill="#89bd6c" fill-opacity="0.62" stroke="none"/>
<path d="M371.50,144.30 C371.83,143.58 372.95,141.70 373.50,140.00 C374.05,138.30 374.37,136.23 374.80,134.10 C375.23,131.97 375.67,129.48 376.10,127.20 C376.53,124.92 376.98,122.17 377.40,120.40 C377.82,118.63 378.13,117.42 378.60,116.60 C379.07,115.78 379.70,115.50 380.20,115.50 C380.70,115.50 381.22,115.78 381.60,116.60 C381.98,117.42 382.22,118.63 382.50,120.40 C382.78,122.17 382.98,124.92 383.30,127.20 C383.62,129.48 383.97,131.97 384.40,134.10 C384.83,136.23 385.30,138.45 385.90,140.00 C386.50,141.55 387.15,142.68 388.00,143.40 C388.85,144.12 390.50,144.15 391.00,144.30" fill="none" stroke="#74b654" stroke-width="0.95" stroke-linejoin="round"/>
<line x1="281.70" y1="161.48" x2="420.50" y2="161.48" stroke="#c8c4e4" stroke-width="0.9"/>
<path d="M355.00,161.48 C355.42,161.40 356.60,161.33 357.50,160.98 C358.40,160.63 359.38,160.40 360.40,159.38 C361.42,158.36 362.63,156.91 363.60,154.88 C364.57,152.85 365.45,149.53 366.20,147.18 C366.95,144.83 367.37,142.58 368.10,140.78 C368.83,138.98 369.80,137.33 370.60,136.38 C371.40,135.43 372.22,135.20 372.90,135.08 C373.58,134.96 374.12,135.05 374.70,135.68 C375.28,136.31 375.90,136.96 376.40,138.88 C376.90,140.80 377.17,144.51 377.70,147.18 C378.23,149.85 378.87,152.75 379.60,154.88 C380.33,157.01 381.03,158.88 382.10,159.98 C383.17,161.08 385.35,161.23 386.00,161.48 L386.00,161.48 L355.00,161.48 Z" fill="#a6a0d0" fill-opacity="0.62" stroke="none"/>
<path d="M355.00,161.48 C355.42,161.40 356.60,161.33 357.50,160.98 C358.40,160.63 359.38,160.40 360.40,159.38 C361.42,158.36 362.63,156.91 363.60,154.88 C364.57,152.85 365.45,149.53 366.20,147.18 C366.95,144.83 367.37,142.58 368.10,140.78 C368.83,138.98 369.80,137.33 370.60,136.38 C371.40,135.43 372.22,135.20 372.90,135.08 C373.58,134.96 374.12,135.05 374.70,135.68 C375.28,136.31 375.90,136.96 376.40,138.88 C376.90,140.80 377.17,144.51 377.70,147.18 C378.23,149.85 378.87,152.75 379.60,154.88 C380.33,157.01 381.03,158.88 382.10,159.98 C383.17,161.08 385.35,161.23 386.00,161.48" fill="none" stroke="#a098d8" stroke-width="0.95" stroke-linejoin="round"/>
<line x1="281.70" y1="178.66" x2="420.50" y2="178.66" stroke="#c0a8cc" stroke-width="0.9"/>
<path d="M360.00,178.66 C360.67,178.61 362.48,178.68 364.00,178.36 C365.52,178.04 367.60,177.46 369.10,176.76 C370.60,176.06 371.93,175.54 373.00,174.16 C374.07,172.78 374.77,170.69 375.50,168.46 C376.23,166.23 376.75,163.21 377.40,160.76 C378.05,158.31 378.75,155.41 379.40,153.76 C380.05,152.11 380.72,150.96 381.30,150.86 C381.88,150.76 382.42,151.51 382.90,153.16 C383.38,154.81 383.73,157.99 384.20,160.76 C384.67,163.53 385.02,167.21 385.70,169.76 C386.38,172.31 387.33,174.63 388.30,176.06 C389.27,177.49 390.72,177.93 391.50,178.36 C392.28,178.79 392.75,178.61 393.00,178.66 L393.00,178.66 L360.00,178.66 Z" fill="#735189" fill-opacity="0.62" stroke="none"/>
<path d="M360.00,178.66 C360.67,178.61 362.48,178.68 364.00,178.36 C365.52,178.04 367.60,177.46 369.10,176.76 C370.60,176.06 371.93,175.54 373.00,174.16 C374.07,172.78 374.77,170.69 375.50,168.46 C376.23,166.23 376.75,163.21 377.40,160.76 C378.05,158.31 378.75,155.41 379.40,153.76 C380.05,152.11 380.72,150.96 381.30,150.86 C381.88,150.76 382.42,151.51 382.90,153.16 C383.38,154.81 383.73,157.99 384.20,160.76 C384.67,163.53 385.02,167.21 385.70,169.76 C386.38,172.31 387.33,174.63 388.30,176.06 C389.27,177.49 390.72,177.93 391.50,178.36 C392.28,178.79 392.75,178.61 393.00,178.66" fill="none" stroke="#7a5a90" stroke-width="0.95" stroke-linejoin="round"/>
<line x1="281.70" y1="195.84" x2="420.50" y2="195.84" stroke="#b4c8c0" stroke-width="0.9"/>
<path d="M360.00,195.84 C360.47,195.79 361.70,195.91 362.80,195.54 C363.90,195.17 365.55,194.59 366.60,193.64 C367.65,192.69 368.42,191.76 369.10,189.84 C369.78,187.92 370.22,185.12 370.70,182.14 C371.18,179.16 371.58,174.59 372.00,171.94 C372.42,169.29 372.82,167.37 373.20,166.24 C373.58,165.11 373.92,164.94 374.30,165.14 C374.68,165.34 375.08,166.09 375.50,167.44 C375.92,168.79 376.37,170.79 376.80,173.24 C377.23,175.69 377.57,179.37 378.10,182.14 C378.63,184.91 379.25,187.81 380.00,189.84 C380.75,191.87 381.75,193.34 382.60,194.34 C383.45,195.34 384.68,195.59 385.10,195.84 L385.10,195.84 L360.00,195.84 Z" fill="#598673" fill-opacity="0.62" stroke="none"/>
<path d="M360.00,195.84 C360.47,195.79 361.70,195.91 362.80,195.54 C363.90,195.17 365.55,194.59 366.60,193.64 C367.65,192.69 368.42,191.76 369.10,189.84 C369.78,187.92 370.22,185.12 370.70,182.14 C371.18,179.16 371.58,174.59 372.00,171.94 C372.42,169.29 372.82,167.37 373.20,166.24 C373.58,165.11 373.92,164.94 374.30,165.14 C374.68,165.34 375.08,166.09 375.50,167.44 C375.92,168.79 376.37,170.79 376.80,173.24 C377.23,175.69 377.57,179.37 378.10,182.14 C378.63,184.91 379.25,187.81 380.00,189.84 C380.75,191.87 381.75,193.34 382.60,194.34 C383.45,195.34 384.68,195.59 385.10,195.84" fill="none" stroke="#5a8474" stroke-width="0.95" stroke-linejoin="round"/>
<line x1="281.70" y1="213.02" x2="420.50" y2="213.02" stroke="#f0dc98" stroke-width="0.9"/>
<path d="M345.00,213.02 C345.45,212.99 346.53,212.89 347.70,212.82 C348.87,212.75 350.52,212.69 352.00,212.62 C353.48,212.55 355.20,212.62 356.60,212.42 C358.00,212.22 359.33,212.09 360.40,211.42 C361.47,210.75 362.25,209.92 363.00,208.42 C363.75,206.92 364.27,204.59 364.90,202.42 C365.53,200.25 366.17,197.65 366.80,195.42 C367.43,193.19 368.10,190.72 368.70,189.02 C369.30,187.32 369.97,186.07 370.40,185.22 C370.83,184.37 370.93,183.80 371.30,183.92 C371.67,184.04 372.18,184.85 372.60,185.92 C373.02,186.99 373.28,188.42 373.80,190.32 C374.32,192.22 375.05,194.87 375.70,197.32 C376.35,199.77 377.05,202.89 377.70,205.02 C378.35,207.15 378.87,208.89 379.60,210.12 C380.33,211.35 381.03,211.94 382.10,212.42 C383.17,212.90 385.35,212.92 386.00,213.02 L386.00,213.02 L345.00,213.02 Z" fill="#eac746" fill-opacity="0.62" stroke="none"/>
<path d="M345.00,213.02 C345.45,212.99 346.53,212.89 347.70,212.82 C348.87,212.75 350.52,212.69 352.00,212.62 C353.48,212.55 355.20,212.62 356.60,212.42 C358.00,212.22 359.33,212.09 360.40,211.42 C361.47,210.75 362.25,209.92 363.00,208.42 C363.75,206.92 364.27,204.59 364.90,202.42 C365.53,200.25 366.17,197.65 366.80,195.42 C367.43,193.19 368.10,190.72 368.70,189.02 C369.30,187.32 369.97,186.07 370.40,185.22 C370.83,184.37 370.93,183.80 371.30,183.92 C371.67,184.04 372.18,184.85 372.60,185.92 C373.02,186.99 373.28,188.42 373.80,190.32 C374.32,192.22 375.05,194.87 375.70,197.32 C376.35,199.77 377.05,202.89 377.70,205.02 C378.35,207.15 378.87,208.89 379.60,210.12 C380.33,211.35 381.03,211.94 382.10,212.42 C383.17,212.90 385.35,212.92 386.00,213.02" fill="none" stroke="#ecc84a" stroke-width="0.95" stroke-linejoin="round"/>
<line x1="281.70" y1="230.20" x2="420.50" y2="230.20" stroke="#c0c4d0" stroke-width="0.9"/>
<path d="M357.00,230.20 C357.60,230.15 359.47,230.12 360.60,229.90 C361.73,229.68 362.47,229.67 363.80,228.90 C365.13,228.13 367.45,226.88 368.60,225.30 C369.75,223.72 369.98,221.80 370.70,219.40 C371.42,217.00 372.32,213.02 372.90,210.90 C373.48,208.78 373.80,207.72 374.20,206.70 C374.60,205.68 374.92,204.80 375.30,204.80 C375.68,204.80 376.10,205.68 376.50,206.70 C376.90,207.72 377.23,208.95 377.70,210.90 C378.17,212.85 378.60,215.92 379.30,218.40 C380.00,220.88 380.93,224.03 381.90,225.80 C382.87,227.57 384.03,228.27 385.10,229.00 C386.17,229.73 387.77,230.00 388.30,230.20 L388.30,230.20 L357.00,230.20 Z" fill="#737b8c" fill-opacity="0.62" stroke="none"/>
<path d="M357.00,230.20 C357.60,230.15 359.47,230.12 360.60,229.90 C361.73,229.68 362.47,229.67 363.80,228.90 C365.13,228.13 367.45,226.88 368.60,225.30 C369.75,223.72 369.98,221.80 370.70,219.40 C371.42,217.00 372.32,213.02 372.90,210.90 C373.48,208.78 373.80,207.72 374.20,206.70 C374.60,205.68 374.92,204.80 375.30,204.80 C375.68,204.80 376.10,205.68 376.50,206.70 C376.90,207.72 377.23,208.95 377.70,210.90 C378.17,212.85 378.60,215.92 379.30,218.40 C380.00,220.88 380.93,224.03 381.90,225.80 C382.87,227.57 384.03,228.27 385.10,229.00 C386.17,229.73 387.77,230.00 388.30,230.20" fill="none" stroke="#707890" stroke-width="0.95" stroke-linejoin="round"/>
<line x1="281.70" y1="247.38" x2="420.50" y2="247.38" stroke="#c8c9d2" stroke-width="0.9"/>
<path d="M331.00,247.38 C332.50,247.31 337.25,247.18 340.00,246.98 C342.75,246.78 345.83,246.41 347.50,246.18 C349.17,245.95 349.23,245.86 350.00,245.58 C350.77,245.30 351.22,245.01 352.10,244.48 C352.98,243.95 354.15,243.26 355.30,242.38 C356.45,241.50 357.93,240.68 359.00,239.18 C360.07,237.68 360.98,235.23 361.70,233.38 C362.42,231.53 362.85,230.03 363.30,228.08 C363.75,226.13 364.00,223.11 364.40,221.68 C364.80,220.25 365.27,219.66 365.70,219.48 C366.13,219.30 366.60,219.95 367.00,220.58 C367.40,221.21 367.65,222.21 368.10,223.28 C368.55,224.35 369.17,225.48 369.70,226.98 C370.23,228.48 370.77,230.86 371.30,232.28 C371.83,233.70 372.28,234.06 372.90,235.48 C373.52,236.90 374.30,239.18 375.00,240.78 C375.70,242.38 376.30,244.05 377.10,245.08 C377.90,246.11 378.98,246.60 379.80,246.98 C380.62,247.36 381.63,247.31 382.00,247.38 L382.00,247.38 L331.00,247.38 Z" fill="#b2b3bd" fill-opacity="0.62" stroke="none"/>
<path d="M331.00,247.38 C332.50,247.31 337.25,247.18 340.00,246.98 C342.75,246.78 345.83,246.41 347.50,246.18 C349.17,245.95 349.23,245.86 350.00,245.58 C350.77,245.30 351.22,245.01 352.10,244.48 C352.98,243.95 354.15,243.26 355.30,242.38 C356.45,241.50 357.93,240.68 359.00,239.18 C360.07,237.68 360.98,235.23 361.70,233.38 C362.42,231.53 362.85,230.03 363.30,228.08 C363.75,226.13 364.00,223.11 364.40,221.68 C364.80,220.25 365.27,219.66 365.70,219.48 C366.13,219.30 366.60,219.95 367.00,220.58 C367.40,221.21 367.65,222.21 368.10,223.28 C368.55,224.35 369.17,225.48 369.70,226.98 C370.23,228.48 370.77,230.86 371.30,232.28 C371.83,233.70 372.28,234.06 372.90,235.48 C373.52,236.90 374.30,239.18 375.00,240.78 C375.70,242.38 376.30,244.05 377.10,245.08 C377.90,246.11 378.98,246.60 379.80,246.98 C380.62,247.36 381.63,247.31 382.00,247.38" fill="none" stroke="#9a9cac" stroke-width="0.95" stroke-linejoin="round"/>
<line x1="281.70" y1="264.56" x2="420.50" y2="264.56" stroke="#dcdcdf" stroke-width="0.9"/>
<path d="M355.00,264.56 C355.48,264.46 357.15,264.86 357.90,263.96 C358.65,263.06 358.97,261.29 359.50,259.16 C360.03,257.03 360.57,253.83 361.10,251.16 C361.63,248.49 362.17,245.41 362.70,243.16 C363.23,240.91 363.85,238.84 364.30,237.66 C364.75,236.48 364.95,235.79 365.40,236.06 C365.85,236.33 366.38,237.28 367.00,239.26 C367.62,241.24 368.42,244.91 369.10,247.96 C369.78,251.01 370.30,255.03 371.10,257.56 C371.90,260.09 372.92,261.99 373.90,263.16 C374.88,264.33 376.48,264.33 377.00,264.56 L377.00,264.56 L355.00,264.56 Z" fill="#dadadd" fill-opacity="0.62" stroke="none"/>
<path d="M355.00,264.56 C355.48,264.46 357.15,264.86 357.90,263.96 C358.65,263.06 358.97,261.29 359.50,259.16 C360.03,257.03 360.57,253.83 361.10,251.16 C361.63,248.49 362.17,245.41 362.70,243.16 C363.23,240.91 363.85,238.84 364.30,237.66 C364.75,236.48 364.95,235.79 365.40,236.06 C365.85,236.33 366.38,237.28 367.00,239.26 C367.62,241.24 368.42,244.91 369.10,247.96 C369.78,251.01 370.30,255.03 371.10,257.56 C371.90,260.09 372.92,261.99 373.90,263.16 C374.88,264.33 376.48,264.33 377.00,264.56" fill="none" stroke="#b8b8c0" stroke-width="0.95" stroke-linejoin="round"/>
<line x1="281.70" y1="22.90" x2="420.50" y2="22.90" stroke="#333" stroke-width="1.4"/>
<line x1="281.70" y1="22.40" x2="281.70" y2="266.80" stroke="#111" stroke-width="1.2"/>
<line x1="420.50" y1="22.40" x2="420.50" y2="266.80" stroke="#111" stroke-width="1.2"/>
<line x1="281.20" y1="266.80" x2="421.00" y2="266.80" stroke="#222" stroke-width="1.6"/>
<line x1="281.70" y1="266.80" x2="281.70" y2="269.40" stroke="#222" stroke-width="0.8"/>
<line x1="292.15" y1="266.80" x2="292.15" y2="268.40" stroke="#222" stroke-width="0.8"/>
<line x1="298.26" y1="266.80" x2="298.26" y2="268.40" stroke="#222" stroke-width="0.8"/>
<line x1="302.59" y1="266.80" x2="302.59" y2="268.40" stroke="#222" stroke-width="0.8"/>
<line x1="305.95" y1="266.80" x2="305.95" y2="268.40" stroke="#222" stroke-width="0.8"/>
<line x1="308.70" y1="266.80" x2="308.70" y2="268.40" stroke="#222" stroke-width="0.8"/>
<line x1="311.02" y1="266.80" x2="311.02" y2="268.40" stroke="#222" stroke-width="0.8"/>
<line x1="313.04" y1="266.80" x2="313.04" y2="268.40" stroke="#222" stroke-width="0.8"/>
<line x1="314.81" y1="266.80" x2="314.81" y2="268.40" stroke="#222" stroke-width="0.8"/>
<line x1="316.40" y1="266.80" x2="316.40" y2="269.40" stroke="#222" stroke-width="0.8"/>
<line x1="326.85" y1="266.80" x2="326.85" y2="268.40" stroke="#222" stroke-width="0.8"/>
<line x1="332.96" y1="266.80" x2="332.96" y2="268.40" stroke="#222" stroke-width="0.8"/>
<line x1="337.29" y1="266.80" x2="337.29" y2="268.40" stroke="#222" stroke-width="0.8"/>
<line x1="340.65" y1="266.80" x2="340.65" y2="268.40" stroke="#222" stroke-width="0.8"/>
<line x1="343.40" y1="266.80" x2="343.40" y2="268.40" stroke="#222" stroke-width="0.8"/>
<line x1="345.72" y1="266.80" x2="345.72" y2="268.40" stroke="#222" stroke-width="0.8"/>
<line x1="347.74" y1="266.80" x2="347.74" y2="268.40" stroke="#222" stroke-width="0.8"/>
<line x1="349.51" y1="266.80" x2="349.51" y2="268.40" stroke="#222" stroke-width="0.8"/>
<line x1="351.10" y1="266.80" x2="351.10" y2="269.40" stroke="#222" stroke-width="0.8"/>
<line x1="361.55" y1="266.80" x2="361.55" y2="268.40" stroke="#222" stroke-width="0.8"/>
<line x1="367.66" y1="266.80" x2="367.66" y2="268.40" stroke="#222" stroke-width="0.8"/>
<line x1="371.99" y1="266.80" x2="371.99" y2="268.40" stroke="#222" stroke-width="0.8"/>
<line x1="375.35" y1="266.80" x2="375.35" y2="268.40" stroke="#222" stroke-width="0.8"/>
<line x1="378.10" y1="266.80" x2="378.10" y2="268.40" stroke="#222" stroke-width="0.8"/>
<line x1="380.42" y1="266.80" x2="380.42" y2="268.40" stroke="#222" stroke-width="0.8"/>
<line x1="382.44" y1="266.80" x2="382.44" y2="268.40" stroke="#222" stroke-width="0.8"/>
<line x1="384.21" y1="266.80" x2="384.21" y2="268.40" stroke="#222" stroke-width="0.8"/>
<line x1="385.80" y1="266.80" x2="385.80" y2="269.40" stroke="#222" stroke-width="0.8"/>
<line x1="396.25" y1="266.80" x2="396.25" y2="268.40" stroke="#222" stroke-width="0.8"/>
<line x1="402.36" y1="266.80" x2="402.36" y2="268.40" stroke="#222" stroke-width="0.8"/>
<line x1="406.69" y1="266.80" x2="406.69" y2="268.40" stroke="#222" stroke-width="0.8"/>
<line x1="410.05" y1="266.80" x2="410.05" y2="268.40" stroke="#222" stroke-width="0.8"/>
<line x1="412.80" y1="266.80" x2="412.80" y2="268.40" stroke="#222" stroke-width="0.8"/>
<line x1="415.12" y1="266.80" x2="415.12" y2="268.40" stroke="#222" stroke-width="0.8"/>
<line x1="417.14" y1="266.80" x2="417.14" y2="268.40" stroke="#222" stroke-width="0.8"/>
<line x1="418.91" y1="266.80" x2="418.91" y2="268.40" stroke="#222" stroke-width="0.8"/>
<line x1="420.50" y1="266.80" x2="420.50" y2="269.40" stroke="#222" stroke-width="0.8"/>
<text x="277.80" y="278.50" font-size="7.0" fill="#2a2a2a" stroke="#2a2a2a" stroke-width="0.04" textLength="6.40" lengthAdjust="spacingAndGlyphs">10</text>
<text x="284.40" y="275.90" font-size="4.2" fill="#2a2a2a" stroke="#2a2a2a" stroke-width="0.04">0</text>
<text x="312.50" y="278.50" font-size="7.0" fill="#2a2a2a" stroke="#2a2a2a" stroke-width="0.04" textLength="6.40" lengthAdjust="spacingAndGlyphs">10</text>
<text x="319.10" y="275.90" font-size="4.2" fill="#2a2a2a" stroke="#2a2a2a" stroke-width="0.04">1</text>
<text x="347.20" y="278.50" font-size="7.0" fill="#2a2a2a" stroke="#2a2a2a" stroke-width="0.04" textLength="6.40" lengthAdjust="spacingAndGlyphs">10</text>
<text x="353.80" y="275.90" font-size="4.2" fill="#2a2a2a" stroke="#2a2a2a" stroke-width="0.04">2</text>
<text x="381.90" y="278.50" font-size="7.0" fill="#2a2a2a" stroke="#2a2a2a" stroke-width="0.04" textLength="6.40" lengthAdjust="spacingAndGlyphs">10</text>
<text x="388.50" y="275.90" font-size="4.2" fill="#2a2a2a" stroke="#2a2a2a" stroke-width="0.04">3</text>
<text x="416.60" y="278.50" font-size="7.0" fill="#2a2a2a" stroke="#2a2a2a" stroke-width="0.04" textLength="6.40" lengthAdjust="spacingAndGlyphs">10</text>
<text x="423.20" y="275.90" font-size="4.2" fill="#2a2a2a" stroke="#2a2a2a" stroke-width="0.04">4</text>
<text x="423.80" y="57.10" font-size="6.0" fill="#333333" stroke="#333333" stroke-width="0.02" textLength="36.20" lengthAdjust="spacingAndGlyphs">NY-eso-1 clone</text>
<text x="423.80" y="74.63" font-size="6.0" fill="#b82a50" stroke="#b82a50" stroke-width="0.02" textLength="47.20" lengthAdjust="spacingAndGlyphs">Patient 1 - TRBV7-9</text>
<text x="423.80" y="91.76" font-size="6.0" fill="#b82a50" stroke="#b82a50" stroke-width="0.02" textLength="47.20" lengthAdjust="spacingAndGlyphs">Patient 2 - TRBV7-9</text>
<text x="423.80" y="108.89" font-size="6.0" fill="#b82a50" stroke="#b82a50" stroke-width="0.02" textLength="47.20" lengthAdjust="spacingAndGlyphs">Patient 3 - TRBV7-9</text>
<text x="423.80" y="126.02" font-size="6.0" fill="#46629e" stroke="#46629e" stroke-width="0.02" textLength="48.40" lengthAdjust="spacingAndGlyphs">Donor A - TRBV20-1</text>
<text x="423.80" y="143.15" font-size="6.0" fill="#b82a50" stroke="#b82a50" stroke-width="0.02" textLength="45.60" lengthAdjust="spacingAndGlyphs">Donor B - TRBV5-1</text>
<text x="423.80" y="160.28" font-size="6.0" fill="#46629e" stroke="#46629e" stroke-width="0.02" textLength="46.00" lengthAdjust="spacingAndGlyphs">Donor B - TRBV5-5</text>
<text x="423.80" y="177.41" font-size="6.0" fill="#b82a50" stroke="#b82a50" stroke-width="0.02" textLength="46.00" lengthAdjust="spacingAndGlyphs">Donor C - TRBV5-6</text>
<text x="423.80" y="194.54" font-size="6.0" fill="#7cb342" stroke="#7cb342" stroke-width="0.02" textLength="46.00" lengthAdjust="spacingAndGlyphs">Donor C - TRBV7-9</text>
<text x="423.80" y="211.67" font-size="6.0" fill="#2e4a8a" stroke="#2e4a8a" stroke-width="0.02" textLength="46.40" lengthAdjust="spacingAndGlyphs">Donor D - TRBV4-1</text>
<text x="423.80" y="228.80" font-size="6.0" fill="#6ab04a" stroke="#6ab04a" stroke-width="0.02" textLength="45.60" lengthAdjust="spacingAndGlyphs">Donor E - TRBV5-5</text>
<text x="423.80" y="245.93" font-size="6.0" fill="#26457f" stroke="#26457f" stroke-width="0.02" textLength="40.00" lengthAdjust="spacingAndGlyphs">Donor F - TRBV9</text>
<text x="423.80" y="263.06" font-size="6.0" fill="#b8b8b8" stroke="#b8b8b8" stroke-width="0.02" textLength="66.80" lengthAdjust="spacingAndGlyphs">Donor F - TRBV7-9/TRBJ2-7</text>
<path d="M495.0,66.10 H500.6 V111.80 H495.0" fill="none" stroke="#333" stroke-width="1"/>
<text transform="translate(505.1,89.20) rotate(90)" x="0" y="0" font-size="6.2" fill="#2a2a2a" text-anchor="middle" textLength="52.80" lengthAdjust="spacingAndGlyphs">in vivo GVL responses</text>
<path d="M495.0,118.10 H500.6 V197.10 H495.0" fill="none" stroke="#333" stroke-width="1"/>
<g transform="translate(505.1,137.00) rotate(90)" fill="#2a2a2a"><text x="0" y="0" font-size="6.5" textLength="15.6" lengthAdjust="spacingAndGlyphs">HA-1H</text><text x="16.0" y="-2.4" font-size="4.4" textLength="6.0" lengthAdjust="spacingAndGlyphs">neg</text><text x="24.20" y="0" font-size="6.5" textLength="16.6" lengthAdjust="spacingAndGlyphs">donors</text></g>
<path d="M495.0,202.60 H500.6 V265.70 H495.0" fill="none" stroke="#333" stroke-width="1"/>
<g transform="translate(505.1,214.20) rotate(90)" fill="#2a2a2a"><text x="0" y="0" font-size="6.5" textLength="15.6" lengthAdjust="spacingAndGlyphs">HA-1H</text><text x="16.0" y="-2.4" font-size="4.4" textLength="6.0" lengthAdjust="spacingAndGlyphs">pos</text><text x="23.20" y="0" font-size="6.5" textLength="16.6" lengthAdjust="spacingAndGlyphs">donors</text></g>
</svg>
</body></html>
